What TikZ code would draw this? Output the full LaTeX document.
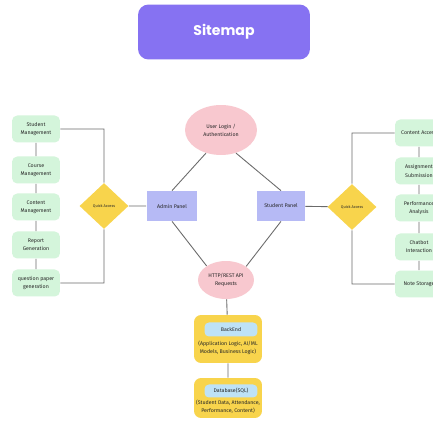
\documentclass[tikz,border=0pt]{standalone}
\usepackage{fontspec}
\setmainfont{Fira Sans}
\newfontfamily\titlefont{Poppins}
\usepackage{xcolor}
\usetikzlibrary{positioning,shapes.geometric,arrows.meta}
\definecolor{titlepurple}{HTML}{8672F2}
\definecolor{boxgreen}{HTML}{D4F5DB}
\definecolor{accyellow}{HTML}{F8D44C}
\definecolor{panelblue}{HTML}{B6BAF5}
\definecolor{ovalpink}{HTML}{F8C8CF}
\definecolor{innerblue}{HTML}{BEE2F6}
\definecolor{linegray}{HTML}{6A6A6A}

\begin{document}
\begin{tikzpicture}[x=0.02cm,y=-0.02cm,
    every node/.style={font=\fontsize{3}{4.6}\selectfont, align=center, text=black!85},
    menubox/.style={fill=boxgreen, rounded corners=3pt, minimum width=0.96cm, minimum height=0.54cm, inner sep=0pt},
    quick/.style={diamond, fill=accyellow, aspect=1.05, minimum width=0.98cm, minimum height=0.92cm, inner sep=0pt, font=\fontsize{2.2}{2.6}\selectfont},
    panel/.style={rectangle, fill=panelblue, minimum height=0.6cm, inner sep=0pt},
    oval/.style={ellipse, fill=ovalpink, inner sep=0pt},
    layer/.style={fill=accyellow, rounded corners=4pt, minimum width=1.36cm, inner sep=0pt},
    layertag/.style={fill=innerblue, rounded corners=2.5pt, minimum width=1.06cm, minimum height=0.28cm, inner sep=0pt},
    link/.style={draw=linegray, line width=0.5pt}]%[node distance=3cm]
    \useasboundingbox (0,0) rectangle (433,425);
    \clip (0,0) rectangle (433,425);
    \fill[white] (0,0) rectangle (433,425);

    \node[fill=titlepurple, rounded corners=6pt, minimum width=3.44cm, minimum height=1.1cm,
          font=\titlefont\bfseries\fontsize{8}{10}\selectfont, text=white] (title) at (224,32) {Sitemap};

    % admin side
    \node[menubox] (lsm) at (36,129) {Student\\Management};
    \node[menubox] (lcm) at (36,170) {Course\\Management};
    \node[menubox] (lct) at (36,207) {Content\\Management};
    \node[menubox] (lrg) at (36,245) {Report\\Generation};
    \node[menubox] (lqp) at (36,283) {question paper\\generation};
    \node[quick] (lqa) at (104,206) {Quick Access};
    \node[panel, minimum width=1.02cm] (admin) at (172,206) {Admin Panel};

    % student side
    \node[menubox] (rca) at (419,133) {Content Access};
    \node[menubox] (ras) at (419,171) {Assignment\\Submission};
    \node[menubox] (rpa) at (419,208) {Performance\\Analysis};
    \node[menubox] (rci) at (419,247) {Chatbot\\Interaction};
    \node[menubox] (rns) at (419,284) {Note Storage};
    \node[quick] (rqa) at (352,207) {Quick Access};
    \node[panel, minimum width=0.96cm] (student) at (281,206) {Student Panel};

    \node[oval, minimum width=1.44cm, minimum height=1.0cm] (login) at (221,130) {User Login /\\Authentication};
    \node[oval, minimum width=1.12cm, minimum height=0.76cm] (api) at (226,280) {HTTP/REST API\\Requests};

    % backend stack
    \node[layer, minimum height=0.96cm] (be) at (228,339) {};
    \node[layertag] (betag) at (231,329.5) {BackEnd};
    \node (betxt) at (228,348) {(Application Logic, AI/ML\\Models, Business Logic)};
    \node[layer, minimum height=0.8cm] (db) at (228,398) {};
    \node[layertag, minimum height=0.26cm] (dbtag) at (231,391) {Database(SQL)};
    \node (dbtxt) at (228,407) {(Student Data, Attendance,\\Performance, Content)};

    \path[link]
        (lsm) -- (lcm) (lcm) -- (lct) (lct) -- (lrg) (lrg) -- (lqp)
        (lsm.east) -| (lqa.north)
        (lqa.south) |- (lqp.east)
        (lqa) -- (admin)
        (rca) -- (ras) (ras) -- (rpa) (rpa) -- (rci) (rci) -- (rns)
        (rqa.north) |- (rca.west)
        (rqa.south) |- (rns.west)
        (student) -- (rqa)
        (login.237) -- (admin.north)
        (login.303) -- (student.north)
        (admin.south) -- (api.144)
        (student.south) -- (api.34)
        (api) -- (be)
        (be) -- (db);
\end{tikzpicture}
\end{document}
